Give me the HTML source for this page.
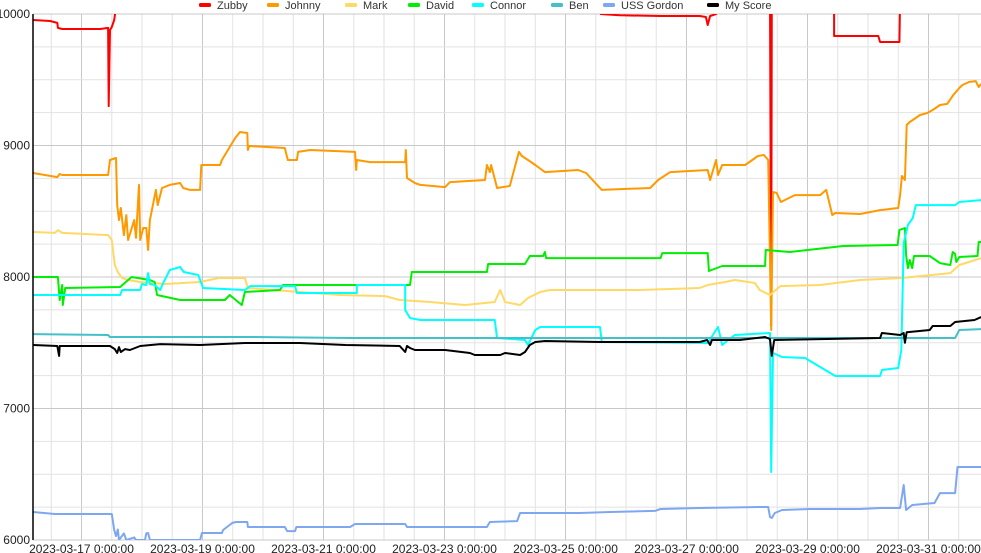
<!DOCTYPE html>
<html><head><meta charset="utf-8"><style>
html,body{margin:0;padding:0;background:#fff;}
svg{display:block;font-family:"Liberation Sans",Arial,sans-serif;}
</style></head><body>
<svg id="chart" width="981" height="553" viewBox="0 0 981 553" xmlns="http://www.w3.org/2000/svg">
<defs><clipPath id="plotclip"><rect x="33" y="14" width="948" height="526"/></clipPath></defs>
<g id="grid"></g>
<g id="xlabels"></g>
<g id="ylabels"></g>
<g id="series" clip-path="url(#plotclip)"></g>
<line x1="33" y1="14" x2="33" y2="540" stroke="#000" stroke-width="1.5"/>
<g id="legend"></g>
</svg>
<script>
const seriesNames = ["Zubby","Johnny","Mark","David","Connor","Ben","USS Gordon","My Score"];
const seriesColors = ["#ff0000","#ff9900","#ffd966","#00ee00","#00ffff","#44c0c8","#7ea7f2","#000000"];
const yTicks = [6000,7000,8000,9000,10000];
const xTickDays = [0,2,4,6,8,10,12,14];
const xTickLabels = ["2023-03-17 0:00:00","2023-03-19 0:00:00","2023-03-21 0:00:00","2023-03-23 0:00:00","2023-03-25 0:00:00","2023-03-27 0:00:00","2023-03-29 0:00:00","2023-03-31 0:00:00"];

const zubbyT = [-0.80,-0.52,-0.40,-0.39,-0.32,0.31,0.44,0.45,0.47,0.50,0.54,0.57,0.57,8.57,8.90,9.57,10.22,10.32,10.35,10.39,10.49,10.55,10.55,11.38,11.40,11.41,11.41,12.44,12.44,13.17,13.20,13.52,13.53];
const zubbyV = [9954,9947,9932,9894,9886,9886,9894,9300,9878,9901,9954,10050,null,10000,9990,9985,9985,9977,9916,9985,10000,10046,null,10110,7630,10110,null,10110,9833,9833,9787,9787,10110];

const johnnyT = [-0.80,-0.40,-0.36,-0.32,0.44,0.47,0.57,0.59,0.62,0.65,0.70,0.74,0.77,0.87,0.90,0.95,0.97,1.02,1.07,1.10,1.13,1.23,1.26,1.33,1.46,1.63,1.68,1.79,1.96,1.98,2.29,2.32,2.54,2.62,2.74,2.75,2.77,3.36,3.41,3.56,3.58,3.78,4.52,4.54,4.55,4.77,5.35,5.36,5.38,5.51,5.60,6.01,6.09,6.67,6.70,6.75,6.77,6.87,7.08,7.23,7.28,7.38,7.50,7.66,8.21,8.34,8.60,9.40,9.53,9.73,10.35,10.39,10.49,10.52,10.59,10.97,11.18,11.28,11.35,11.40,11.43,11.49,11.56,11.79,12.21,12.31,12.41,12.46,12.87,13.20,13.50,13.53,13.56,13.61,13.64,13.69,13.74,13.86,13.98,14.07,14.19,14.31,14.41,14.51,14.56,14.67,14.78,14.83,14.87];
const johnnyV = [8791,8760,8783,8776,8776,8890,8905,8547,8433,8525,8319,8471,8281,8433,8297,8700,8281,8373,8373,8205,8433,8662,8547,8677,8700,8715,8677,8662,8662,8852,8852,8890,9057,9103,9095,8966,8996,8981,8890,8890,8951,8966,8951,8814,8890,8874,8874,8966,8753,8715,8700,8684,8722,8738,8852,8798,8852,8677,8692,8951,8920,8890,8852,8798,8814,8791,8662,8677,8738,8798,8814,8738,8890,8776,8852,8852,8920,8928,8890,7597,8646,8640,8570,8623,8623,8662,8471,8487,8479,8509,8525,8623,8768,8738,9156,9179,9194,9232,9247,9270,9308,9316,9384,9437,9460,9483,9490,9445,9468];

const markT = [-0.80,-0.44,-0.39,-0.32,0.44,0.50,0.55,0.60,0.67,0.77,0.97,1.38,1.96,2.26,2.70,2.75,3.61,4.27,5.02,5.26,5.76,6.34,6.83,6.92,7.00,7.25,7.38,7.58,7.74,9.23,10.22,10.35,10.64,10.80,11.13,11.21,11.38,11.55,12.21,12.87,13.53,14.36,14.51,14.67,14.87];
const markV = [8342,8335,8357,8335,8319,8281,8091,8038,7992,7977,7962,7947,7962,7992,7992,7916,7886,7863,7855,7825,7810,7787,7810,7901,7810,7787,7840,7886,7901,7901,7916,7939,7962,7977,7954,7901,7863,7931,7939,7977,7992,8030,8091,8114,8144];

const davidT = [-0.80,-0.39,-0.36,-0.32,-0.31,-0.27,0.64,0.77,0.83,1.13,1.21,1.25,1.63,2.37,2.45,2.65,2.70,3.28,3.33,5.43,5.46,6.70,6.72,7.33,7.41,7.63,7.66,7.68,7.74,9.57,9.60,10.35,10.37,10.59,11.30,11.31,11.71,12.59,13.49,13.52,13.61,13.63,13.66,13.69,13.73,13.76,14.02,14.19,14.36,14.40,14.44,14.46,14.51,14.81,14.83,14.87];
const davidV = [8000,8000,7825,7939,7787,7916,7924,7977,8000,7977,7962,7863,7825,7825,7863,7787,7886,7901,7939,7939,8038,8038,8099,8099,8160,8160,8190,8144,8144,8144,8182,8182,8046,8084,8084,8205,8190,8236,8243,8357,8373,8167,8068,8129,8068,8160,8160,8106,8091,8190,8175,8114,8152,8160,8266,8266];

const connorT = [-0.80,0.64,0.67,0.97,1.00,1.07,1.10,1.13,1.21,1.30,1.35,1.46,1.63,1.69,1.93,2.01,2.70,2.79,3.53,3.56,4.55,4.55,5.35,5.35,5.43,5.60,6.83,6.87,7.33,7.38,7.50,7.58,8.57,8.60,10.35,10.52,10.59,10.69,10.80,11.38,11.40,11.43,11.58,11.96,12.46,13.20,13.23,13.50,13.55,13.59,13.66,13.74,13.79,14.44,14.51,14.87];
const connorV = [7863,7863,7901,7901,7947,7939,8030,7947,7939,7901,7954,8053,8076,8038,8015,7916,7901,7931,7931,7878,7878,7939,7939,7749,7688,7673,7673,7536,7521,7483,7597,7620,7620,7506,7498,7620,7483,7521,7559,7574,6517,7422,7392,7384,7247,7247,7293,7308,7445,8258,8395,8449,8547,8547,8570,8585];

const benT = [-0.80,0.44,0.47,2.79,4.44,11.38,14.44,14.51,14.87];
const benV = [7566,7559,7544,7544,7536,7536,7536,7597,7604];

const gordonT = [-0.80,-0.44,0.50,0.54,0.57,0.60,0.62,0.70,0.74,0.87,0.90,0.97,1.05,1.07,1.10,1.13,1.96,1.99,2.32,2.34,2.49,2.55,2.74,2.75,3.36,3.40,3.53,3.55,4.44,4.52,5.35,5.38,6.70,6.75,7.20,7.25,8.24,8.74,9.48,9.57,10.22,11.21,11.35,11.38,11.41,11.46,11.58,12.04,12.87,13.20,13.53,13.59,13.63,13.73,14.10,14.19,14.44,14.48,14.87];
const gordonV = [6213,6198,6198,6076,6030,6080,6000,6050,6000,6020,6000,6000,6000,6050,6053,6000,6000,6053,6053,6076,6129,6137,6137,6099,6099,6068,6068,6099,6099,6122,6122,6099,6099,6137,6144,6205,6205,6213,6221,6236,6243,6251,6251,6175,6167,6205,6228,6236,6236,6243,6243,6418,6228,6266,6281,6357,6357,6555,6555];

const myScoreT = [-0.80,-0.40,-0.37,-0.36,0.47,0.55,0.59,0.62,0.65,0.72,0.80,0.97,1.30,1.96,2.70,3.61,4.36,5.26,5.35,5.38,5.43,5.51,6.01,6.42,6.50,6.92,7.00,7.25,7.33,7.41,7.50,7.66,8.57,10.22,10.34,10.39,10.42,10.88,11.30,11.38,11.41,11.45,12.21,13.20,13.23,13.53,13.59,13.61,13.64,14.02,14.07,14.36,14.44,14.76,14.87];
const myScoreV = [7483,7475,7400,7475,7475,7452,7422,7467,7430,7452,7445,7475,7490,7483,7498,7498,7483,7475,7430,7475,7460,7445,7445,7422,7407,7407,7422,7407,7430,7483,7506,7513,7506,7506,7521,7483,7521,7521,7544,7528,7400,7521,7528,7536,7574,7559,7574,7500,7580,7597,7627,7627,7658,7673,7695];

const allT = [zubbyT,johnnyT,markT,davidT,connorT,benT,gordonT,myScoreT];
const allV = [zubbyV,johnnyV,markV,davidV,connorV,benV,gordonV,myScoreV];

const NS = "http://www.w3.org/2000/svg";
const L = 33, R = 981, T = 14, B = 540;
const dayMin = -0.802, dayMax = 14.868;
function xs(d){ return L + (d - dayMin) / (dayMax - dayMin) * (R - L); }
function ys(v){ return B - (v - 6000) / 4000 * (B - T); }
function mk(tag, attrs, parent){ const e = document.createElementNS(NS, tag); for (const k in attrs) e.setAttribute(k, attrs[k]); parent.appendChild(e); return e; }

const grid = document.getElementById('grid');
for (let d = -0.5; d <= 14.87; d += 0.5) {
  const major = Math.abs(d - Math.round(d / 2) * 2) < 1e-6;
  const gl = mk('line', {x1: xs(d), x2: xs(d), y1: T, y2: B, stroke: major ? '#c8c8c8' : '#e2e2e2', 'stroke-width': 1}, grid);
  
  
}
for (let v = 6000; v <= 10000; v += 250) {
  const major = v % 1000 === 0;
  const gl = mk('line', {x1: L, x2: R, y1: ys(v), y2: ys(v), stroke: major ? '#c8c8c8' : '#e2e2e2', 'stroke-width': 1}, grid);
  
  
}
const yl = document.getElementById('ylabels');
yTicks.forEach(v => {
  const t = mk('text', {x: 30, y: ys(v) + 4, 'text-anchor': 'end', 'font-size': 12, fill: '#222'}, yl);
  t.textContent = v;
  
  
});
const xl = document.getElementById('xlabels');
xTickDays.forEach((d, i) => {
  const t = mk('text', {x: xs(d), y: 553, 'text-anchor': 'middle', 'font-size': 12, fill: '#222'}, xl);
  t.textContent = xTickLabels[i];
  
  
});
const sg = document.getElementById('series');
allT.forEach((ts, si) => {
  const vs = allV[si];
  let dstr = '', pen = false;
  for (let i = 0; i < ts.length; i++) {
    if (vs[i] === null) { pen = false; continue; }
    dstr += (pen ? 'L' : 'M') + xs(ts[i]).toFixed(1) + ' ' + ys(vs[i]).toFixed(1) + ' ';
    pen = true;
  }
  const p = mk('path', {d: dstr, fill: 'none', stroke: seriesColors[si], 'stroke-width': 2, 'stroke-linejoin': 'round'}, sg);
  
  
});
const lg = document.getElementById('legend');
const legX = [199, 267, 345, 408, 472, 551, 603, 707];
seriesNames.forEach((n, i) => {
  const g = mk('g', {}, lg);
  
  
  mk('rect', {x: legX[i], y: 3, width: 12, height: 4, rx: 1.5, fill: seriesColors[i]}, g);
  const t = mk('text', {x: legX[i] + 18, y: 9, 'font-size': 11, fill: '#333'}, g);
  t.textContent = n;
});
</script>
</body></html>
